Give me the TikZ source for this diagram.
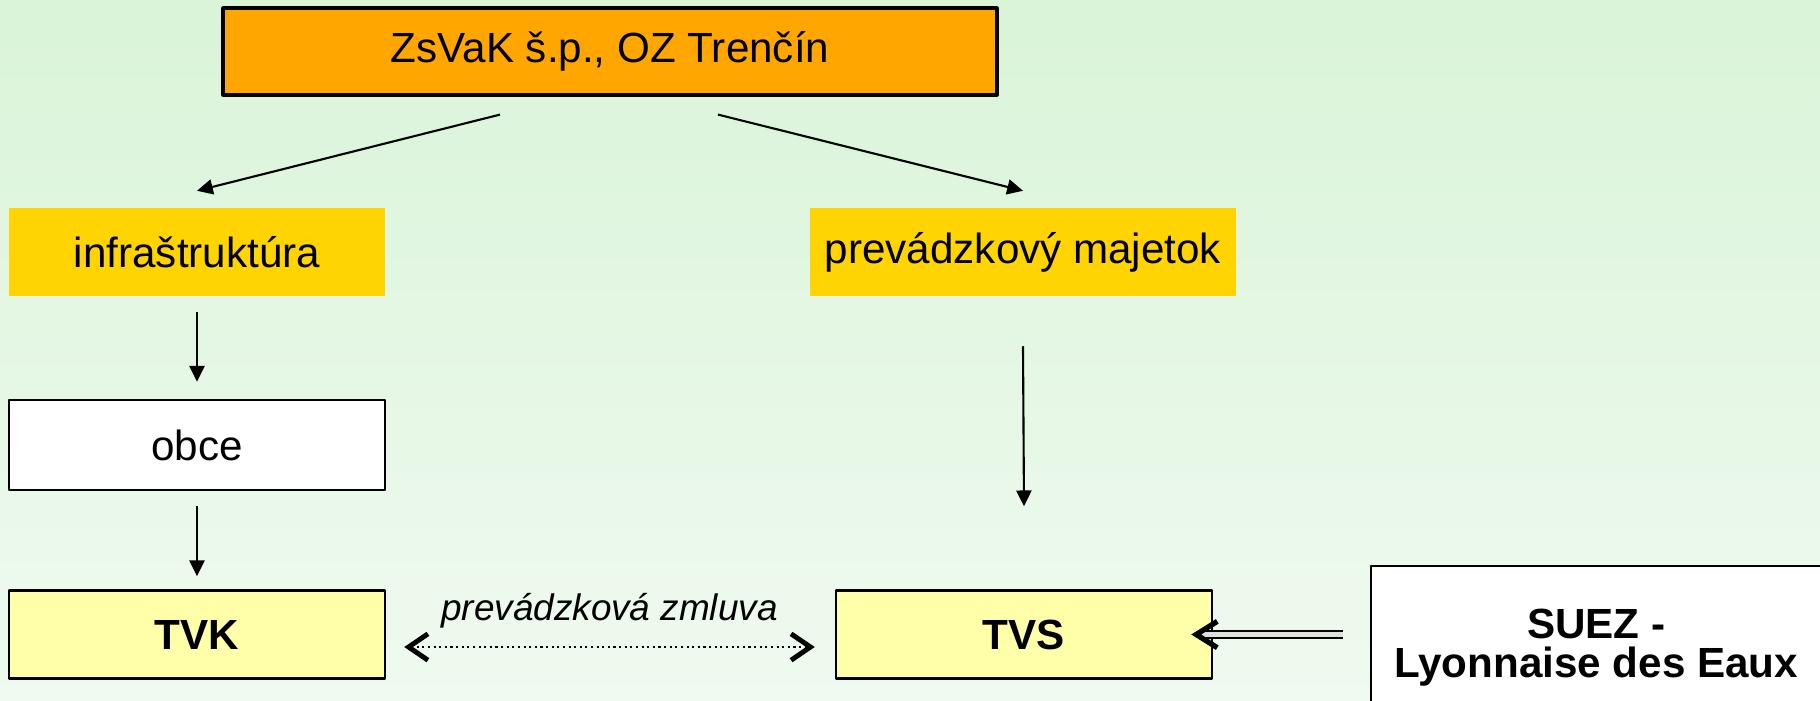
\documentclass[tikz,border=0pt]{standalone}
\usepackage{fontspec}
\setmainfont{Liberation Sans}
\usetikzlibrary{arrows.meta}
\definecolor{bgtop}{HTML}{D9F4D8}
\definecolor{bgbot}{HTML}{F0FAF0}
\definecolor{orangebox}{HTML}{FFA700}
\definecolor{goldbox}{HTML}{FFD400}
\definecolor{paleyellow}{HTML}{FFFFAA}
\begin{document}
\begin{tikzpicture}[font=\fontsize{12}{14}\selectfont, line join=round,
  box/.style={minimum height=0.88cm, inner sep=0pt, line width=0.7pt},
  bold/.style={font=\fontsize{12}{14}\selectfont\bfseries},
  arr/.style={line width=0.6pt, -{Triangle[length=4.5pt,width=4.3pt]}},
  barb/.tip={Straight Barb[length=5.5pt,width=7.5pt,line width=1.4pt]}]
\def\W{18.2}\def\H{7}
\clip (0,0) rectangle (\W,-\H);
\shade[top color=bgtop, bottom color=bgbot] (0,0) rectangle (\W,-\H);
\node[box, draw, line width=0.9pt, fill=orangebox, minimum width=7.74cm, minimum height=0.87cm] (zsvak) at (6.10,-0.515) {ZsVaK š.p., OZ Trenčín};
\node[box, fill=goldbox, minimum width=3.76cm] (infra) at (1.97,-2.52) {infraštruktúra};
\node[box, fill=goldbox, minimum width=4.26cm] (majetok) at (10.23,-2.52) {prevádzkový majetok};
\node[box, draw, fill=white, minimum width=3.76cm, minimum height=0.9cm] (obce) at (1.97,-4.45) {obce};
\node[box, bold, draw, fill=paleyellow, minimum width=3.76cm] (tvk) at (1.97,-6.345) {TVK};
\node[box, bold, draw, fill=paleyellow, minimum width=3.76cm] (tvs) at (10.24,-6.345) {TVS};
\node[box, draw, fill=white, minimum width=4.5cm, minimum height=1.63cm, align=center,
  font=\fontsize{12}{11}\selectfont\bfseries, anchor=north west] (suez) at (13.70,-5.65) {SUEZ -\\Lyonnaise des Eaux};
\draw[arr] ([xshift=-1.1cm,yshift=-0.18cm]zsvak.south) -- ([yshift=0.16cm]infra.north);
\draw[arr] ([xshift=1.08cm,yshift=-0.18cm]zsvak.south) -- ([yshift=0.16cm]majetok.north);
\draw[arr] ([yshift=-0.15cm]infra.south) -- ([yshift=0.17cm]obce.north);
\draw[arr] ([yshift=-0.15cm]obce.south) -- ([yshift=0.13cm]tvk.north);
\draw[arr] ([yshift=-0.49cm]majetok.south) -- ([yshift=0.83cm]tvs.north);
\draw[densely dotted, line width=0.6pt, barb-barb] ([xshift=0.18cm,yshift=-0.125cm]tvk.east)
  -- node[anchor=base, yshift=0.27cm, font=\fontsize{10.5}{12}\selectfont\itshape] (zmluva) {prevádzková zmluva}
  ([xshift=-0.2cm,yshift=-0.125cm]tvs.west);
\draw[double=gray!25, double distance=1.3pt, line width=0.7pt, shorten <=0.27cm,
  -{Straight Barb[length=6pt,width=7.5pt,line width=1.5pt]}] (suez.west |- tvs.east) -- ([xshift=-0.22cm]tvs.east);
\end{tikzpicture}
\end{document}
